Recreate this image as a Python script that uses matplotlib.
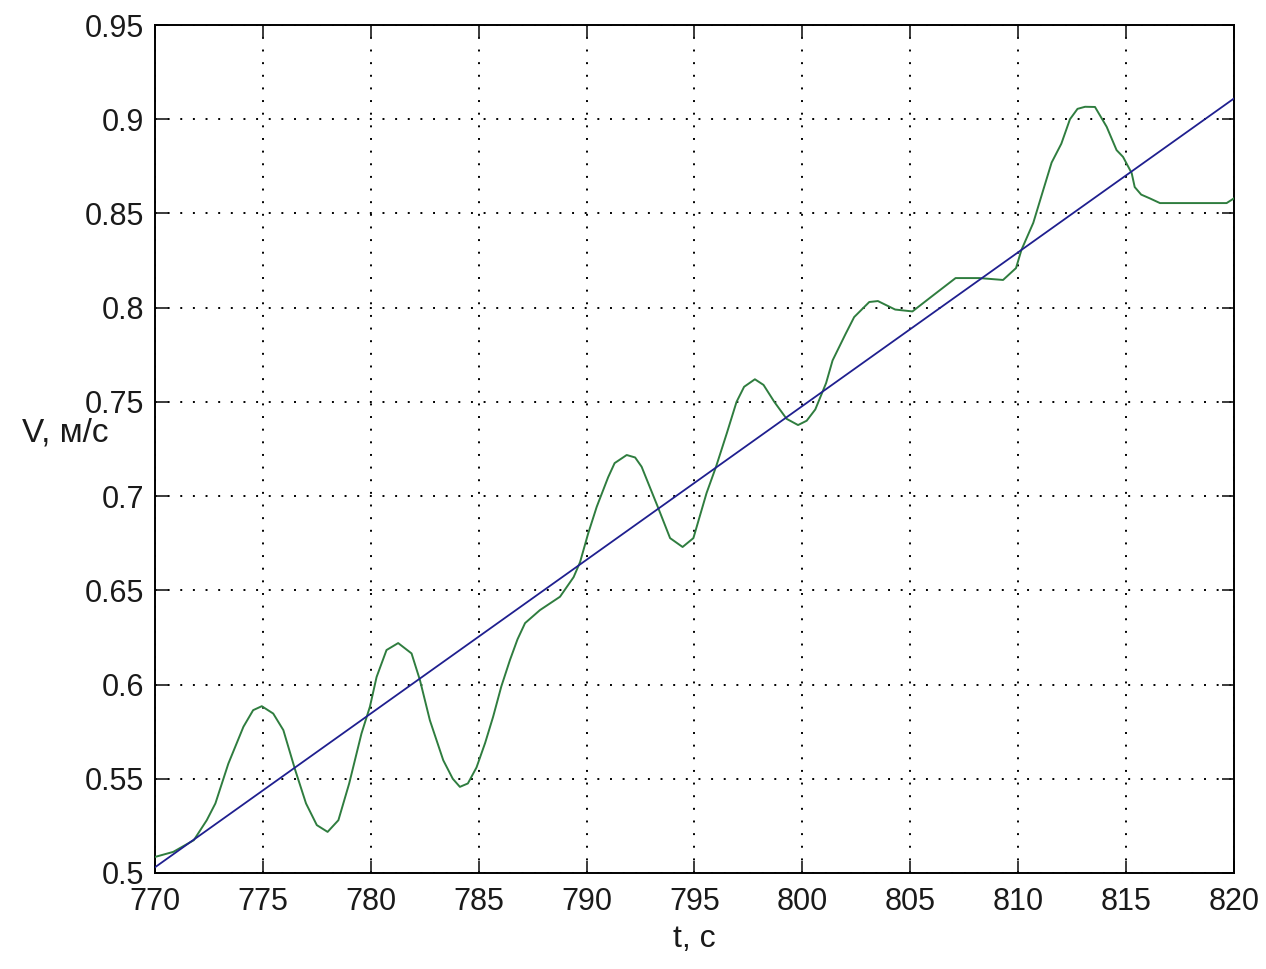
import matplotlib
matplotlib.use("Agg")
import matplotlib.pyplot as plt

# Скорость V (м/с) во времени t (с): измерение и линейный тренд
t_izm = [770.0, 770.85, 771.8, 772.4, 772.8, 773.4, 774.1, 774.55, 774.95, 775.48,
         775.95, 776.5, 777.0, 777.5, 778.0, 778.5, 779.0, 779.57, 779.96, 780.27,
         780.73, 781.27, 781.89, 782.28, 782.74, 783.36, 783.8, 784.13, 784.5, 784.9,
         785.3, 785.67, 786.05, 786.45, 786.8, 787.15, 787.84, 788.77, 789.4, 789.7,
         790.07, 790.47, 791.0, 791.3, 791.86, 792.25, 792.55, 793.3, 793.87, 794.45,
         794.95, 795.56, 796.0, 796.5, 796.95, 797.3, 797.8, 798.2, 798.7, 799.27,
         799.8, 800.2, 800.6, 801.1, 801.4, 802.0, 802.4, 803.1, 803.5, 804.3,
         805.1, 806.0, 807.1, 808.2, 809.3, 809.9, 810.15, 810.7, 811.15, 811.55,
         812.0, 812.4, 812.75, 813.1, 813.56, 814.1, 814.56, 814.86, 815.26, 815.4,
         815.7, 816.1, 816.57, 819.66, 820.0]
v_izm = [0.5085, 0.5112, 0.5174, 0.528, 0.5369, 0.558, 0.5776, 0.5864, 0.5885, 0.5846,
         0.5758, 0.5546, 0.5369, 0.5254, 0.5218, 0.528, 0.5475, 0.574, 0.5882, 0.604,
         0.6183, 0.622, 0.6165, 0.6023, 0.581, 0.5598, 0.5500, 0.5457, 0.5475, 0.5560,
         0.5690, 0.5829, 0.5990, 0.613, 0.6240, 0.6326, 0.6395, 0.6466, 0.657, 0.665,
         0.680, 0.6943, 0.710, 0.7175, 0.7218, 0.7205, 0.7156, 0.6943, 0.6777, 0.673,
         0.6777, 0.7016, 0.7156, 0.7334, 0.750, 0.758, 0.762, 0.759, 0.750, 0.741,
         0.7377, 0.740, 0.746, 0.760, 0.772, 0.786, 0.795, 0.803, 0.8035, 0.799,
         0.798, 0.806, 0.8157, 0.8157, 0.8147, 0.821, 0.8306, 0.845, 0.862, 0.877,
         0.887, 0.900, 0.9055, 0.9066, 0.9065, 0.896, 0.8836, 0.880, 0.8714, 0.864,
         0.860, 0.858, 0.8555, 0.8555, 0.858]

t_trend = [770.0, 820.0]
v_trend = [0.503, 0.911]

x_ticks = [770, 775, 780, 785, 790, 795, 800, 805, 810, 815, 820]
y_ticks = [0.5, 0.55, 0.6, 0.65, 0.7, 0.75, 0.8, 0.85, 0.9, 0.95]
y_labels = ["0.5", "0.55", "0.6", "0.65", "0.7", "0.75", "0.8", "0.85", "0.9", "0.95"]

plt.rcParams['font.family'] = ['Liberation Sans', 'DejaVu Sans']

fig = plt.figure(figsize=(12.66, 9.69), dpi=100)
ax = fig.add_axes([0.1224, 0.0991, 0.8523, 0.8751])

ax.plot(t_izm, v_izm, color='#2f7d3f', linewidth=1.4, zorder=3)
ax.plot(t_trend, v_trend, color='#1f1f8f', linewidth=1.3, zorder=3)

ax.set_xlim(770, 820)
ax.set_ylim(0.5, 0.95)
ax.set_xticks(x_ticks)
ax.set_yticks(y_ticks)
ax.set_yticklabels(y_labels)

# сетка точками, как в MATLAB
ax.grid(True, color='black', linewidth=1.4, linestyle=(0, (1, 5.5)))
ax.set_axisbelow(True)

ax.tick_params(direction='in', length=9, width=1.2, top=True, right=True,
               labelsize=22, colors='#1a1a1a', pad=8)
ax.tick_params(axis='x', pad=10)
for s in ax.spines.values():
    s.set_linewidth(1.4)

ax.set_xlabel('t, с', fontsize=23, labelpad=5, color='#1a1a1a')
ax.set_ylabel('V, м/с', fontsize=24, rotation=0, color='#1a1a1a')
ax.yaxis.set_label_coords(-0.083, 0.5)

fig.savefig('out.png', dpi=100)
